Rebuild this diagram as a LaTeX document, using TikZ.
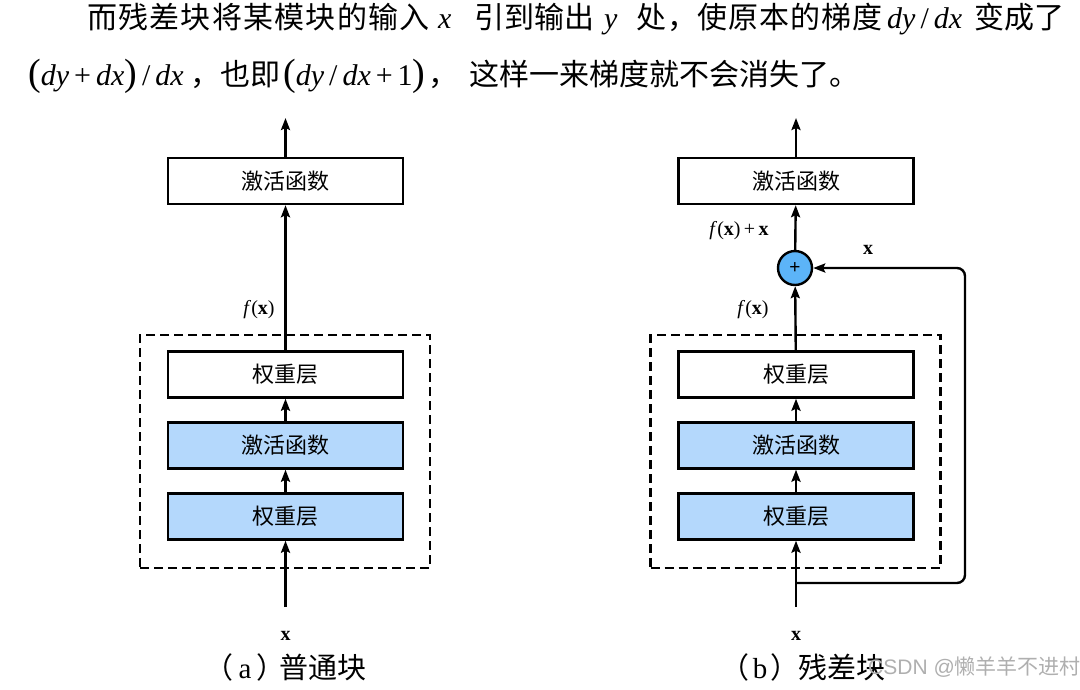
\documentclass[tikz,border=0pt]{standalone}
\usepackage{fontspec}
\setmainfont{Liberation Serif}
\setsansfont{Liberation Sans}
\newfontfamily\cjk{Noto Sans CJK SC}
\newfontfamily\cjkwide[LetterSpace=4.2]{Noto Sans CJK SC}
\newfontfamily\cjkmid[LetterSpace=3]{Noto Sans CJK SC}
\usetikzlibrary{arrows.meta}
\definecolor{boxblue}{RGB}{180,216,252}
\definecolor{circblue}{RGB}{92,180,248}
\definecolor{wmgray}{RGB}{175,175,175}
\newcommand{\bigp}[1]{{\fontsize{38}{38}\selectfont #1}}
\begin{document}
\begin{tikzpicture}[x=1pt,y=-1pt,
  box/.style={draw, line width=2.4pt, minimum width=235pt, minimum height=46pt, inner sep=0pt, font=\cjk\fontsize{22}{22}\selectfont},
  bluebox/.style={box, fill=boxblue},
  arr/.style={-{Stealth[length=12pt,width=9pt,inset=2pt]}, line width=2.4pt},
  dbox/.style={draw, line width=2.4pt, dash pattern=on 9pt off 5pt, minimum width=290pt, minimum height=233pt, inner sep=0pt},
  lbl/.style={font=\fontsize{20}{20}\selectfont, inner sep=0pt},
  captext/.style={font=\fontsize{29}{29}\selectfont, inner sep=0pt},
  para/.style={font=\fontsize{30}{30}\selectfont, inner sep=0pt, anchor=base west}]
\useasboundingbox (0,0) rectangle (1080,689);
% paragraph, line 1
\node[para] (s1) at (87,28) {\cjkwide 而残差块将某模块的输入};
\node[para] (s2) at (438,28) {\textit{x}};
\node[para] (s3) at (474,28) {\cjk 引到输出};
\node[para] (s4) at (604,28) {\textit{y}};
\node[para] (s5) at (636,28) {\cjkmid 处，使原本的梯度};
\node[para] (s6) at (887,28) {\textit{dy}\,/\,\textit{dx}};
\node[para] (s7) at (974,28) {\cjk 变成了};
% paragraph, line 2
\node[para] (t1) at (28,85) {\bigp{(}\textit{dy}\,+\,\textit{dx}\bigp{)}\,/\,\textit{dx}};
\node[para] (t2) at (190,85) {\cjk ，也即};
\node[para] (t3) at (283,85) {\bigp{(}\textit{dy}\,/\,\textit{dx}\,+\,1\bigp{)}};
\node[para] (t4) at (428,85) {\cjk ，};
\node[para] (t5) at (469,85) {\cjk 这样一来梯度就不会消失了。};
% left diagram
\node[box] (a3) at (285.5,181) {激活函数};
\node[dbox] (ad) at (285,451.5) {};
\node[box] (a2) at (285.5,374.5) {权重层};
\node[bluebox] (a1) at (285.5,445.5) {激活函数};
\node[bluebox] (a0) at (285.5,516.5) {权重层};
\coordinate (ain) at (285.5,607);
\coordinate (aout) at (285.5,118);
\draw[arr] (ain) -- (a0);
\draw[arr] (a0) -- (a1);
\draw[arr] (a1) -- (a2);
\draw[arr] (a2) -- (a3);
\draw[arr] (a3) -- (aout);
\node[lbl] (afx) at (259,310) {\textit{f}(\textbf{x})};
\node[lbl] (ax) at (285.5,636) {\textbf{x}};
\node[captext] (acapl) at (245,667) {\cjk （\hspace{5pt}\rmfamily a\hspace{5pt}\cjk ）};
\node[captext] (acap) at (322.5,667) {\cjk 普通块};
% right diagram
\node[box] (b3) at (796,181) {激活函数};
\node[dbox] (bd) at (795.5,451.5) {};
\node[box] (b2) at (796,374.5) {权重层};
\node[bluebox] (b1) at (796,445.5) {激活函数};
\node[bluebox] (b0) at (796,516.5) {权重层};
\node[draw, circle, line width=2.4pt, fill=circblue, minimum size=34pt, inner sep=0pt, font=\sffamily\fontsize{19}{19}\selectfont] (plus) at (795,268) {+};
\coordinate (bin) at (796,607);
\coordinate (bout) at (796,118);
\coordinate (bsplit) at (796,583);
\coordinate (bc1) at (965,583);
\coordinate (bc2) at (965,268);
\draw[arr] (bin) -- (b0);
\draw[arr] (b0) -- (b1);
\draw[arr] (b1) -- (b2);
\draw[arr] (b2) -- (plus);
\draw[arr] (plus) -- (b3);
\draw[arr] (b3) -- (bout);
\draw[arr, rounded corners=8pt] (bsplit) -- (bc1) -- (bc2) -- (plus);
\node[lbl] (bfx) at (753,310) {\textit{f}(\textbf{x})};
\node[lbl] (bfxx) at (739,231) {\textit{f}(\textbf{x})\,+\,\textbf{x}};
\node[lbl] (bskx) at (868,250) {\textbf{x}};
\node[lbl] (bx) at (796,636) {\textbf{x}};
\node[captext] (bcapl) at (760,667) {\cjk （\hspace{3pt}\rmfamily b\hspace{3pt}\cjk ）};
\node[captext] (bcap) at (841.5,667) {\cjk 残差块};
\node[font=\fontsize{21}{21}\selectfont, text=wmgray, inner sep=0pt, anchor=west] (wm) at (868,667) {\sffamily CSDN @\cjk 懒羊羊不进村};
\end{tikzpicture}
\end{document}
